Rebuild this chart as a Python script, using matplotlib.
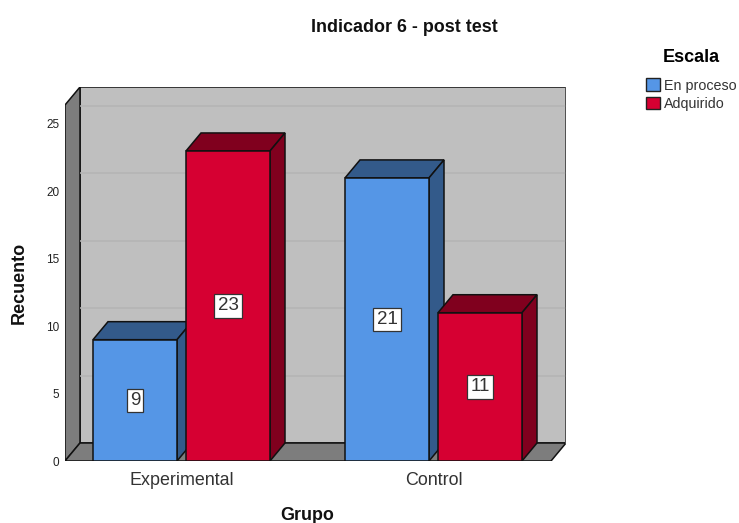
import matplotlib
matplotlib.use("Agg")
import matplotlib.pyplot as plt
from matplotlib.patches import Patch, Polygon

plt.rcParams["font.family"] = ["Liberation Sans", "DejaVu Sans"]

groups = ["Experimental", "Control"]
escalas = ["En proceso", "Adquirido"]
en_proceso = [9, 21]
adquirido = [23, 11]
yticks = [0, 5, 10, 15, 20, 25]
front_colors = ["#5596e6", "#d60032"]
side_colors = ["#335a8a", "#80001e"]

W, H = 739, 523
# pixel box of the plot, front bottom left to back top right
left, right, bottom, top = 65, 566, 461, 87
px_per_group = 252.0
px_per_unit = 13.48
first_center = 181.5
dx = 15 / px_per_group
dy = 18 / px_per_unit
bar_w = 84 / px_per_group
offset = 46.5 / px_per_group
edge = "#111111"

fig = plt.figure(figsize=(W / 100, H / 100), dpi=100)
ax = fig.add_axes([left / W, 1 - bottom / H, (right - left) / W, (bottom - top) / H])
ax.set_xlim((left - first_center) / px_per_group, (right - first_center) / px_per_group)
ax.set_ylim(0, (bottom - top) / px_per_unit)
ax.patch.set_visible(False)
for s in ax.spines.values():
    s.set_visible(False)

x0, x1 = ax.get_xlim()
y1 = ax.get_ylim()[1]
front_right = x1 - dx
front_top = y1 - dy


def poly(points, color, z=1):
    ax.add_patch(Polygon(points, closed=True, facecolor=color, edgecolor=edge, linewidth=1.1, zorder=z))


# walls and floor
poly([(x0 + dx, dy), (x1, dy), (x1, y1), (x0 + dx, y1)], "#bfbfbf")
poly([(x0, 0), (x0 + dx, dy), (x0 + dx, y1), (x0, front_top)], "#7d7d7d")
poly([(x0, 0), (front_right, 0), (x1, dy), (x0 + dx, dy)], "#7d7d7d")
for t in yticks[1:]:
    ax.plot([x0 + dx, x1], [t + dy, t + dy], color="#b4b4b4", lw=1.1, zorder=1.5,
            solid_capstyle="butt")
ax.plot([x1, x1], [dy, y1], color="#555555", lw=1.3, zorder=1.6)


def bar3d(center, value, k, z):
    l = center - bar_w / 2
    r = center + bar_w / 2
    poly([(l, value), (l + dx, value + dy), (r + dx, value + dy), (r, value)], side_colors[k], z)
    poly([(r, 0), (r + dx, dy), (r + dx, value + dy), (r, value)], side_colors[k], z)
    poly([(l, 0), (r, 0), (r, value), (l, value)], front_colors[k], z + 0.1)
    ax.text(center, value / 2, str(value), ha="center", va="center", fontsize=13.5,
            color="#333333", zorder=z + 0.2,
            bbox=dict(boxstyle="square,pad=0.17", facecolor="white", edgecolor="#333333", linewidth=0.9))


z = 2
for i in range(len(groups)):
    bar3d(i - offset, en_proceso[i], 0, z)
    bar3d(i + offset, adquirido[i], 1, z + 1)
    z += 2

ax.set_xticks(range(len(groups)))
ax.set_xticklabels(groups, fontsize=12.9, color="#333333")
ax.set_yticks(yticks)
ax.set_yticklabels([str(t) for t in yticks], fontsize=8.5, color="#222222")
ax.tick_params(axis="both", length=0)
ax.tick_params(axis="x", pad=8)
ax.tick_params(axis="y", pad=4)

fig.text(404 / W, 1 - 27 / H, "Indicador 6 - post test", ha="center", va="center",
         fontsize=12.9, fontweight="bold", color="#111111")
fig.text(19 / W, 1 - 283 / H, "Recuento", rotation=90, ha="center", va="center",
         fontsize=13, fontweight="bold", color="#111111")
fig.text(307 / W, 1 - 515 / H, "Grupo", ha="center", va="center",
         fontsize=12.9, fontweight="bold", color="#111111")

handles = [Patch(facecolor=front_colors[k], edgecolor="#222222", linewidth=1, label=escalas[k])
           for k in range(2)]
leg = fig.legend(handles=handles, title="Escala", loc="upper left",
                 bbox_to_anchor=(643 / W, 1 - 46 / H), frameon=False, fontsize=10.3,
                 title_fontproperties={"size": 13, "weight": "bold"},
                 handlelength=1, handleheight=1, handletextpad=0.3, labelspacing=0.28,
                 borderpad=0.2, borderaxespad=0)
leg._legend_box.sep = 9
for t in leg.get_texts():
    t.set_color("#333333")

fig.savefig("out.png", dpi=100)
